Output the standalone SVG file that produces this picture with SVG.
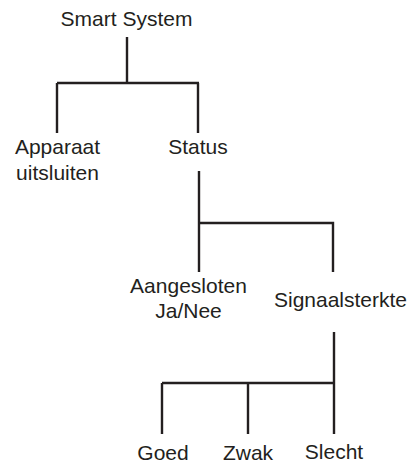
<svg xmlns="http://www.w3.org/2000/svg" width="412" height="464" viewBox="0 0 412 464">
<style>
text{font-family:"Liberation Sans",Arial,sans-serif;font-size:21px;fill:#231f20;text-anchor:middle}
.c{stroke:#231f20;stroke-width:2.4;fill:none}
</style>
<rect width="412" height="464" fill="#fff"/>
<g id="connectors">
<path class="c" d="M127 37V83M57 83H199M57 83V133M198 83V133"/>
<path class="c" d="M199 171V272M199 223H333V272"/>
<path class="c" d="M334 332V434M162 383H334M162 383V434M248 383V434"/>
</g>
<g id="smart-system"><text x="126.5" y="26">Smart System</text></g>
<g id="apparaat"><text x="57.5" y="154">Apparaat</text><text x="57.5" y="180">uitsluiten</text></g>
<g id="status"><text x="198" y="154">Status</text></g>
<g id="aangesloten"><text x="188.5" y="293">Aangesloten</text><text x="188.5" y="318">Ja/Nee</text></g>
<g id="signaalsterkte"><text x="340.5" y="307">Signaalsterkte</text></g>
<g id="goed"><text x="163" y="460">Goed</text></g>
<g id="zwak"><text x="248" y="460">Zwak</text></g>
<g id="slecht"><text x="334" y="459">Slecht</text></g>
</svg>
